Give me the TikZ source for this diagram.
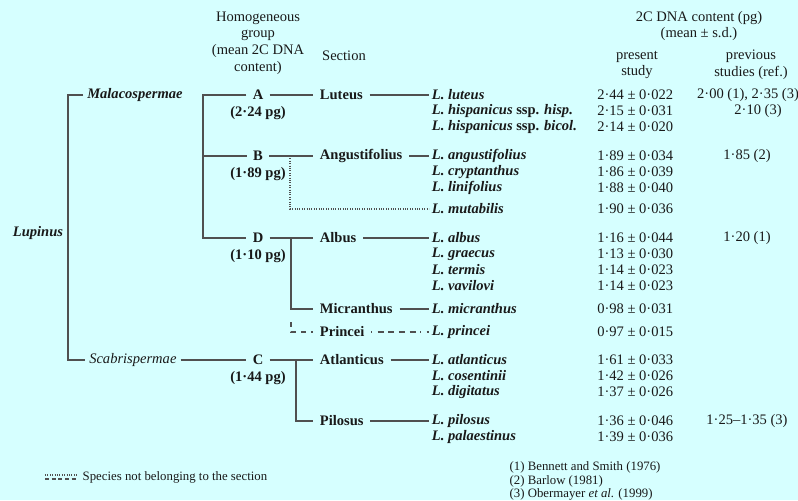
\documentclass[tikz,border=0pt]{standalone}
\usepackage{fontspec}
\setmainfont{Liberation Serif}
\usetikzlibrary{positioning}
\definecolor{bgcyan}{RGB}{214,255,255}
\definecolor{inkdark}{RGB}{25,25,25}
\definecolor{linegray}{RGB}{80,80,80}
\newcommand{\mainsize}{\fontsize{10.9}{13}\selectfont}
\newcommand{\notesize}{\fontsize{9.6}{11}\selectfont}
\tikzset{
  taxon/.style={font=\mainsize\bfseries\itshape, text=inkdark, inner xsep=3pt},
  grpletter/.style={font=\mainsize\bfseries, text=inkdark, inner xsep=4.5pt},
  grpsize/.style={font=\mainsize\bfseries, text=inkdark, inner sep=1pt},
  sectnode/.style={anchor=west, font=\mainsize\bfseries, text=inkdark, inner xsep=5pt},
  species/.style={anchor=west, font=\mainsize\bfseries\itshape, text=inkdark, inner xsep=2pt},
  dnaval/.style={anchor=west, font=\mainsize, text=inkdark, inner xsep=0pt},
  prevval/.style={font=\mainsize, text=inkdark},
  header/.style={align=center, text=inkdark, font=\fontsize{10.9}{12.5}\selectfont},
  smalltxt/.style={anchor=west, text=inkdark, font=\notesize},
  treeline/.style={draw=linegray, line width=0.8pt},
  outside/.style={treeline, densely dotted},
  princeline/.style={treeline, dash pattern=on 4pt off 3.5pt}
}

\begin{document}
\begin{tikzpicture}[x=0.75pt, y=-0.75pt]
  \useasboundingbox[fill=bgcyan] (0,0) rectangle (798,500);

  % Column headings
  \node[header] (hgroup) at (258,43) {Homogeneous\\group\\(mean 2C DNA\\content)};
  \node[header] (hsect) at (344,56) {Section};
  \node[header] (hdna) at (699,26) {2C DNA content (pg)\\(mean ± s.d.)};
  \node[header] (hpres) at (637,65) {present\\study};
  \node[header] (hprev) at (751,65) {previous\\studies (ref.)};

  % Genus and subgenera
  \node[taxon] (lupinus) at (38,233) {Lupinus};
  \node[taxon, anchor=west] (mala) at (83,95) {Malacospermae};
  \node[taxon, anchor=west, font=\mainsize\itshape] (scab) at (85,360) {Scabrispermae};
  \coordinate (lupx) at (68,233);
  \draw[treeline] (mala.west) -| (lupx) |- (scab.west);

  % Homogeneous groups
  \node[grpletter] (grpA) at (258,95) {A};
  \node[grpsize, below=0pt of grpA] (sizeA) {(2·24 pg)};
  \node[grpletter] (grpB) at (258,156) {B};
  \node[grpsize, below=0pt of grpB] (sizeB) {(1·89 pg)};
  \node[grpletter] (grpD) at (258,238) {D};
  \node[grpsize, below=0pt of grpD] (sizeD) {(1·10 pg)};
  \node[grpletter] (grpC) at (258,360) {C};
  \node[grpsize, below=0pt of grpC] (sizeC) {(1·44 pg)};

  \coordinate (malx) at (203,156);
  \draw[treeline] (grpA.west) -| (malx) |- (grpD.west);
  \draw[treeline] (malx) -- (grpB.west);
  \draw[treeline] (scab) -- (grpC);

  % Sections
  \node[sectnode] (luteus) at (313,95) {Luteus};
  \node[sectnode] (angust) at (313,156) {Angustifolius};
  \node[sectnode] (albus) at (313,238) {Albus};
  \node[sectnode] (micran) at (313,309) {Micranthus};
  \node[sectnode] (princei) at (313,332) {Princei};
  \node[sectnode] (atlant) at (313,360) {Atlanticus};
  \node[sectnode] (pilos) at (313,421) {Pilosus};

  \coordinate (bfork) at (290,156);
  \coordinate (dfork) at (291,238);
  \coordinate (pfork) at (291,322);
  \coordinate (cfork) at (296,360);
  \draw[treeline] (grpA) -- (luteus);
  \draw[treeline] (grpB) -- (angust);
  \draw[treeline] (grpD) -- (albus);
  \draw[treeline] (grpC) -- (atlant);
  \draw[treeline] (dfork) |- (micran.west);
  \draw[princeline] (pfork) |- (princei.west);
  \draw[treeline] (cfork) |- (pilos.west);

  % Species with present-study values
  \foreach \nm/\y/\sp/\val in {
    luteus/95/{L. luteus}/{2·44 ± 0·022},
    hisp/111/{L. hispanicus \textup{ssp.} hisp.}/{2·15 ± 0·031},
    bicol/127/{L. hispanicus \textup{ssp.} bicol.}/{2·14 ± 0·020},
    angust/156/{L. angustifolius}/{1·89 ± 0·034},
    crypt/172/{L. cryptanthus}/{1·86 ± 0·039},
    linif/188/{L. linifolius}/{1·88 ± 0·040},
    mutab/209/{L. mutabilis}/{1·90 ± 0·036},
    albus/238/{L. albus}/{1·16 ± 0·044},
    graec/254/{L. graecus}/{1·13 ± 0·030},
    termis/270/{L. termis}/{1·14 ± 0·023},
    vavil/286/{L. vavilovi}/{1·14 ± 0·023},
    micran/309/{L. micranthus}/{0·98 ± 0·031},
    princei/332/{L. princei}/{0·97 ± 0·015},
    atlant/360/{L. atlanticus}/{1·61 ± 0·033},
    cosent/376/{L. cosentinii}/{1·42 ± 0·026},
    digit/392/{L. digitatus}/{1·37 ± 0·026},
    pilos/421/{L. pilosus}/{1·36 ± 0·046},
    palaes/437/{L. palaestinus}/{1·39 ± 0·036}}
  {
    \node[species] (sp-\nm) at (429,\y) {\sp};
    \node[dnaval] (val-\nm) at (597,\y) {\val};
  }

  % Section to type species
  \draw[treeline] (luteus) -- (sp-luteus);
  \draw[treeline] (angust) -- (sp-angust);
  \draw[treeline] (albus) -- (sp-albus);
  \draw[treeline] (micran) -- (sp-micran);
  \draw[treeline] (atlant) -- (sp-atlant);
  \draw[treeline] (pilos) -- (sp-pilos);
  \draw[outside] (bfork) |- (sp-mutab.west);
  \draw[treeline, dash pattern=on 0.8pt off 4pt on 4.5pt off 3.5pt on 4.5pt off 3.5pt on 4.5pt off 3.5pt on 4.5pt off 3.5pt]
    (princei) -- (sp-princei);

  % Previous studies
  \node[prevval] (prev-luteus) at (748,95) {2·00 (1), 2·35 (3)};
  \node[prevval] (prev-hisp) at (758,111) {2·10 (3)};
  \node[prevval] (prev-angust) at (747,156) {1·85 (2)};
  \node[prevval] (prev-albus) at (747,238) {1·20 (1)};
  \node[prevval] (prev-pilos) at (747,421) {1·25–1·35 (3)};

  % Legend and references
  \coordinate (legA) at (45,475);
  \coordinate (legB) at (45,479);
  \draw[outside] (legA) -- ++(32,0);
  \draw[princeline, dash pattern=on 3pt off 2pt] (legB) -- ++(32,0);
  \node[smalltxt] (legend) at (78,477) {Species not belonging to the section};
  \node[smalltxt] (ref1) at (505,467) {(1) Bennett and Smith (1976)};
  \node[smalltxt] (ref2) at (505,481) {(2) Barlow (1981)};
  \node[smalltxt] (ref3) at (505,494) {(3) Obermayer \textit{et al.} (1999)};
\end{tikzpicture}
\end{document}
